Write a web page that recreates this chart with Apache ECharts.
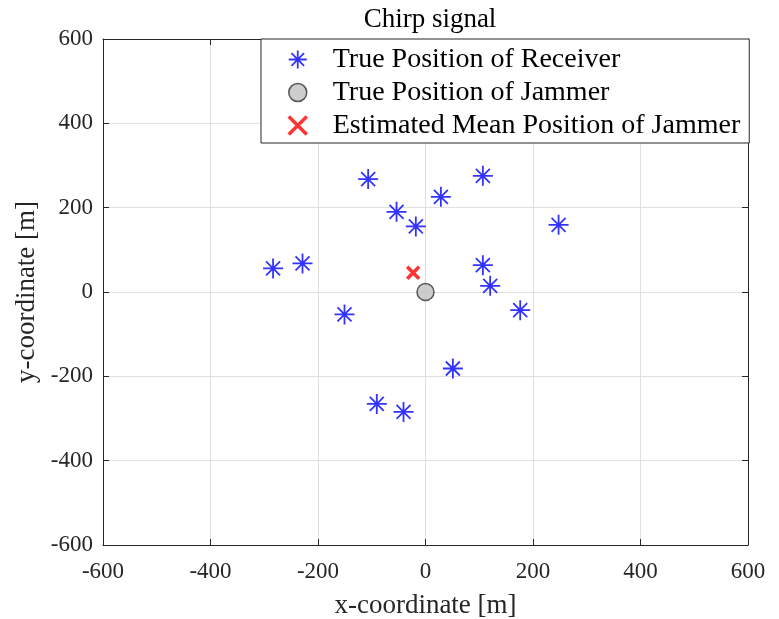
<!DOCTYPE html>
<html>
<head>
<meta charset="utf-8">
<script src="https://cdn.jsdelivr.net/npm/echarts@6/dist/echarts.min.js"></script>
<style>html,body{margin:0;padding:0;background:#fff}#c{width:779px;height:619px}</style>
</head>
<body>
<div id="c"></div>
<script>
const receiverX = [-106.7, 106.7, 28.6, -53.9, -18.0, 247.6, -283.6, -228.8, 106.7, 120.3, -150.7, 176.2, 50.9, -90.6, -40.9];
const receiverY = [267.8, 275.6, 225.8, 190.2, 155.5, 159.3, 55.9, 67.7, 63.7, 14.6, -53.3, -43.1, -181.4, -265.4, -284.4];
const jammerTrue = [0, 0];
const jammerEst = [-23, 45.4];
const seriesNames = ['True Position of Receiver', 'True Position of Jammer', 'Estimated Mean Position of Jammer'];
const axisMin = -600, axisMax = 600, axisStep = 200;

const FONT = 'Liberation Serif';
const AX = '#262626';
const chart = echarts.init(document.getElementById('c'), null, {renderer: 'canvas'});

function valAxis(pos, opts) {
  return Object.assign({
    type: 'value', min: axisMin, max: axisMax, interval: axisStep, position: pos,
    axisLine: {show: true, onZero: false, lineStyle: {color: AX, width: 1}},
    axisTick: {show: true, inside: true, length: 6, lineStyle: {color: AX}},
    splitLine: {show: false},
    axisLabel: {show: false}
  }, opts || {});
}

const starPath = 'path://M10,0L10,20M0,10L20,10M3,3L17,17M3,17L17,3';
const xPath = 'path://M0,0L10,10M0,10L10,0';

const starStyle = {color: '#0000ff', borderColor: '#0000ff', borderWidth: 1.8};
const circStyle = {color: '#c0c0c0', borderColor: '#333', borderWidth: 1.5};
const xStyle = {color: '#ff0000', borderColor: '#ff0000', borderWidth: 3.5};

chart.setOption({
  animation: false,
  backgroundColor: '#fff',
  title: {
    text: 'Chirp signal', left: 425, top: 1, textAlign: 'center',
    textStyle: {fontFamily: FONT, fontSize: 27, fontWeight: 'normal', color: '#000'}
  },
  grid: {left: 103, right: 31, top: 39, bottom: 74, containLabel: false, outerBoundsMode: 'none'},
  xAxis: [
    valAxis('bottom', {
      name: 'x-coordinate [m]', nameLocation: 'middle', nameGap: 47,
      nameTextStyle: {fontFamily: FONT, fontSize: 27, color: AX},
      axisLabel: {show: true, fontFamily: FONT, fontSize: 23, color: AX, margin: 15},
      splitLine: {show: true, lineStyle: {color: '#e0e0e0', width: 1}}
    }),
    valAxis('top')
  ],
  yAxis: [
    valAxis('left', {
      name: 'y-coordinate [m]', nameLocation: 'middle', nameGap: 56,
      nameTextStyle: {fontFamily: FONT, fontSize: 27, color: AX},
      axisLabel: {show: true, fontFamily: FONT, fontSize: 23, color: AX, margin: 10},
      splitLine: {show: true, lineStyle: {color: '#e0e0e0', width: 1}}
    }),
    valAxis('right')
  ],
  legend: {
    orient: 'vertical', left: 261, top: 39,
    padding: [4, 9, 1, 26], itemGap: 0, itemWidth: 60, itemHeight: 18,
    backgroundColor: '#fff', borderColor: AX, borderWidth: 1,
    textStyle: {fontFamily: FONT, fontSize: 28, color: '#000', lineHeight: 33},
    data: [
      {name: seriesNames[0], itemStyle: starStyle},
      {name: seriesNames[1], itemStyle: circStyle},
      {name: seriesNames[2], itemStyle: xStyle}
    ]
  },
  series: [
    {
      name: seriesNames[0], type: 'scatter', z: 3,
      symbol: starPath, symbolSize: 20,
      itemStyle: starStyle,
      data: receiverX.map((x, i) => [x, receiverY[i]])
    },
    {
      name: seriesNames[1], type: 'scatter', z: 4,
      symbol: 'circle', symbolSize: 17,
      itemStyle: circStyle,
      data: [jammerTrue]
    },
    {
      name: seriesNames[2], type: 'scatter', z: 5,
      symbol: xPath, symbolSize: 12,
      itemStyle: xStyle,
      data: [jammerEst]
    }
  ]
});
</script>
</body>
</html>
